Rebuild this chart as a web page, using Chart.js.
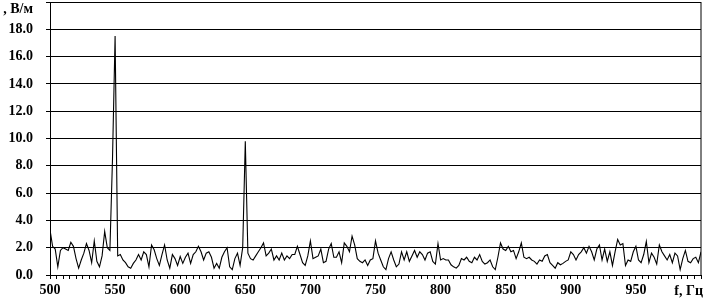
<!DOCTYPE html>
<html>
<head>
<meta charset="utf-8">
<script src="https://cdn.jsdelivr.net/npm/chart.js@4"></script>
<style>
  html, body { margin: 0; padding: 0; background: #fff; }
</style>
</head>
<body>
<canvas id="spectrum" width="704" height="305"></canvas>
<script>
// --- Data (2 Hz step) ---
const freqs = [
  500, 502, 504, 506, 508, 510, 512, 514, 516, 518,
  520, 522, 524, 526, 528, 530, 532, 534, 536, 538,
  540, 542, 544, 546, 548, 550, 552, 554, 556, 558,
  560, 562, 564, 566, 568, 570, 572, 574, 576, 578,
  580, 582, 584, 586, 588, 590, 592, 594, 596, 598,
  600, 602, 604, 606, 608, 610, 612, 614, 616, 618,
  620, 622, 624, 626, 628, 630, 632, 634, 636, 638,
  640, 642, 644, 646, 648, 650, 652, 654, 656, 658,
  660, 662, 664, 666, 668, 670, 672, 674, 676, 678,
  680, 682, 684, 686, 688, 690, 692, 694, 696, 698,
  700, 702, 704, 706, 708, 710, 712, 714, 716, 718,
  720, 722, 724, 726, 728, 730, 732, 734, 736, 738,
  740, 742, 744, 746, 748, 750, 752, 754, 756, 758,
  760, 762, 764, 766, 768, 770, 772, 774, 776, 778,
  780, 782, 784, 786, 788, 790, 792, 794, 796, 798,
  800, 802, 804, 806, 808, 810, 812, 814, 816, 818,
  820, 822, 824, 826, 828, 830, 832, 834, 836, 838,
  840, 842, 844, 846, 848, 850, 852, 854, 856, 858,
  860, 862, 864, 866, 868, 870, 872, 874, 876, 878,
  880, 882, 884, 886, 888, 890, 892, 894, 896, 898,
  900, 902, 904, 906, 908, 910, 912, 914, 916, 918,
  920, 922, 924, 926, 928, 930, 932, 934, 936, 938,
  940, 942, 944, 946, 948, 950, 952, 954, 956, 958,
  960, 962, 964, 966, 968, 970, 972, 974, 976, 978,
  980, 982, 984, 986, 988, 990, 992, 994, 996, 998,
  1000
];

const amplitude = [
  3.3, 2.1, 1.9, 0.6, 1.8, 2.0, 1.9, 1.8, 2.4, 2.1,
  1.2, 0.5, 1.1, 1.6, 2.3, 1.8, 0.9, 2.5, 1.0, 0.6,
  1.4, 3.2, 2.0, 1.8, 8.5, 17.5, 1.4, 1.5, 1.1, 0.9,
  0.6, 0.5, 0.85, 1.1, 1.5, 1.1, 1.7, 1.5, 0.6, 2.2,
  1.85, 1.2, 0.7, 1.5, 2.2, 1.1, 0.5, 1.5, 1.2, 0.7,
  1.35, 0.85, 1.3, 1.6, 0.85, 1.5, 1.7, 2.1, 1.7, 1.1,
  1.6, 1.7, 1.3, 0.5, 0.85, 0.5, 1.3, 1.7, 2.0, 0.6,
  0.4, 1.2, 1.6, 0.7, 2.0, 9.8, 1.6, 1.2, 1.1, 1.4,
  1.7, 2.0, 2.35, 1.4, 1.6, 1.9, 1.1, 1.4, 1.1, 1.6,
  1.1, 1.4, 1.2, 1.5, 1.5, 2.1, 1.5, 0.9, 0.7, 1.4,
  2.5, 1.2, 1.3, 1.4, 1.9, 0.9, 1.0, 1.9, 2.3, 1.3,
  1.3, 1.7, 0.9, 2.35, 2.1, 1.7, 2.85, 2.2, 1.2, 1.0,
  0.9, 1.1, 0.7, 1.1, 1.2, 2.5, 1.6, 1.1, 0.6, 0.4,
  1.2, 1.7, 1.1, 0.6, 0.8, 1.7, 1.1, 1.7, 1.0, 1.4,
  1.8, 1.3, 1.7, 1.5, 1.1, 1.6, 1.7, 1.0, 0.8, 2.3,
  1.1, 1.2, 1.1, 1.1, 0.75, 0.6, 0.5, 0.7, 1.2, 1.1,
  1.3, 1.0, 0.9, 1.3, 1.1, 1.5, 1.0, 0.8, 0.9, 1.1,
  0.6, 0.4, 1.3, 2.35, 1.9, 1.8, 2.1, 1.7, 1.8, 1.2,
  1.7, 2.35, 1.3, 1.2, 1.3, 1.1, 1.0, 0.8, 1.1, 1.0,
  1.4, 1.5, 0.9, 0.7, 0.5, 0.9, 0.75, 0.85, 1.0, 1.1,
  1.7, 1.5, 1.1, 1.5, 1.7, 2.0, 1.6, 2.1, 1.7, 1.1,
  1.9, 2.2, 1.1, 1.9, 1.0, 1.7, 0.7, 1.7, 2.6, 2.2,
  2.3, 0.7, 1.1, 1.0, 1.7, 2.1, 1.1, 0.9, 1.5, 2.45,
  0.9, 1.6, 1.3, 0.8, 2.2, 1.7, 1.4, 1.1, 1.5, 0.9,
  1.6, 1.4, 0.4, 1.2, 1.8, 1.0, 0.9, 1.2, 1.3, 0.9,
  1.7
];

// axis ticks / titles
const xTickLabels = [500, 550, 600, 650, 700, 750, 800, 850, 900, 950];
const yTickLabels = [0, 2, 4, 6, 8, 10, 12, 14, 16, 18];
const xTitle = 'f, Гц';
const yTitle = ', В/м';

const labelFont = { family: 'Liberation Serif', size: 14, weight: 'bold' };

// frame on top/right + axis titles
const framePlugin = {
  id: 'frame',
  afterDraw(chart) {
    const { ctx, chartArea: a, scales } = chart;
    ctx.save();
    ctx.strokeStyle = '#000';
    ctx.lineWidth = 1;
    ctx.strokeRect(a.left + 0.5, a.top + 0.5, a.right - a.left - 0.5, a.bottom - a.top);

    ctx.fillStyle = '#000';
    ctx.font = 'bold 14px "Liberation Serif"';
    ctx.textAlign = 'right';
    ctx.textBaseline = 'middle';
    ctx.fillText(yTitle, scales.y.right - 17, scales.y.getPixelForValue(20) + 7);
    ctx.fillText(xTitle, a.right + 2, a.bottom + 16);
    ctx.restore();
  }
};

new Chart(document.getElementById('spectrum'), {
  type: 'line',
  data: {
    datasets: [{
      data: freqs.map((f, i) => ({ x: f, y: amplitude[i] })),
      borderColor: '#000',
      borderWidth: 1.1,
      pointRadius: 0,
      tension: 0,
      fill: false
    }]
  },
  options: {
    responsive: false,
    animation: false,
    devicePixelRatio: 1,
    layout: { padding: { top: 2, right: 3, left: 0, bottom: 0 } },
    plugins: { legend: { display: false }, tooltip: { enabled: false } },
    scales: {
      x: {
        type: 'linear',
        min: 500,
        max: 1000,
        afterFit: s => { s.height = 30; s.paddingLeft = 0; s.paddingRight = 0; },
        ticks: {
          stepSize: 5,
          autoSkip: false,
          maxRotation: 0,
          padding: 3,
          color: '#000',
          font: labelFont,
          callback: v => xTickLabels.includes(v) ? String(v) : ''
        },
        grid: { drawOnChartArea: false, tickLength: 4, color: '#000' },
        border: { color: '#000', width: 1 }
      },
      y: {
        min: 0,
        max: 20,
        afterFit: s => { s.width = 50; s.paddingTop = 0; s.paddingBottom = 0; },
        ticks: {
          stepSize: 2,
          padding: 13,
          color: '#000',
          font: labelFont,
          callback: v => yTickLabels.includes(v) ? v.toFixed(1) : ''
        },
        grid: { color: '#000', tickLength: 4, lineWidth: 1 },
        border: { color: '#000', width: 1 }
      }
    }
  },
  plugins: [framePlugin]
});
</script>
</body>
</html>
